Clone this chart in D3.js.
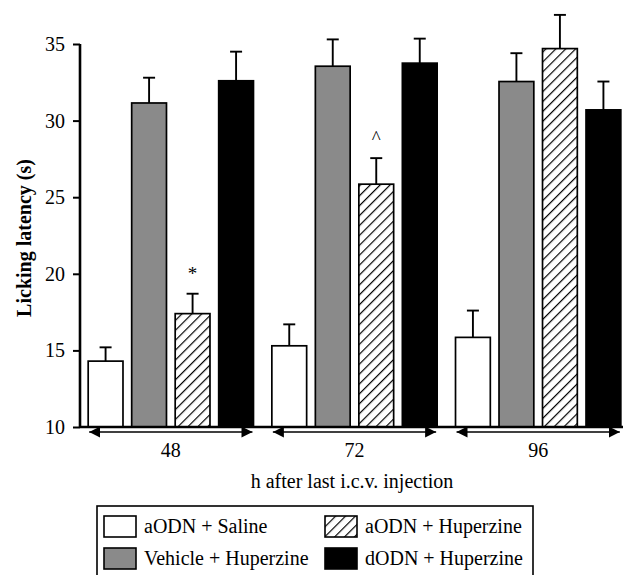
<!DOCTYPE html>
<html>
<head>
<meta charset="utf-8">
<script src="https://cdn.jsdelivr.net/npm/d3@7"></script>
<style>
  body { margin: 0; background: #fff; }
  svg text { font-family: "Liberation Serif", "Times New Roman", serif; fill: #000; }
</style>
</head>
<body>
<script>
// data (means and upper SEM)
var groups = ["48", "72", "96"];
var series = ["aODN + Saline", "Vehicle + Huperzine", "aODN + Huperzine", "dODN + Huperzine"];
var salineMean = [14.3, 15.3, 15.85];
var vehicleMean = [31.15, 33.55, 32.55];
var aodnHupMean = [17.4, 25.85, 34.7];
var dodnHupMean = [32.6, 33.75, 30.7];
var salineErr = [0.9, 1.4, 1.75];
var vehicleErr = [1.65, 1.75, 1.85];
var aodnHupErr = [1.3, 1.7, 2.2];
var dodnHupErr = [1.9, 1.6, 1.85];
var yTicks = [10, 15, 20, 25, 30, 35];
var marks = [{group: "48", series: "aODN + Huperzine", text: "*"},
             {group: "72", series: "aODN + Huperzine", text: "^"}];

var means = [salineMean, vehicleMean, aodnHupMean, dodnHupMean];
var errs = [salineErr, vehicleErr, aodnHupErr, dodnHupErr];

var width = 623, height = 575;

var svg = d3.select("body").append("svg")
    .attr("width", width)
    .attr("height", height);

var defs = svg.append("defs");
var pat = defs.append("pattern")
    .attr("id", "hatch")
    .attr("patternUnits", "userSpaceOnUse")
    .attr("width", 7)
    .attr("height", 7)
    .attr("patternTransform", "rotate(45)");
pat.append("rect").attr("width", 7).attr("height", 7).attr("fill", "#fff");
pat.append("line")
    .attr("x1", 0).attr("y1", 0).attr("x2", 0).attr("y2", 7)
    .attr("stroke", "#000").attr("stroke-width", 2.4);

var fills = ["#fff", "#8a8a8a", "url(#hatch)", "#000"];

var y = d3.scaleLinear().domain([10, 35]).range([427, 44]);
var x0 = d3.scaleBand().domain(groups).range([79, 630]).paddingInner(0.1).paddingOuter(0.05);
var x1 = d3.scaleBand().domain(series).range([0, x0.bandwidth()]).paddingInner(0.2);

var rows = [];
groups.forEach(function(g, gi) {
  series.forEach(function(s, si) {
    rows.push({group: g, series: s, si: si, value: means[si][gi], err: errs[si][gi]});
  });
});

function cx(d) { return x0(d.group) + x1(d.series) + x1.bandwidth() / 2; }

// bars
svg.append("g").selectAll("rect")
  .data(rows)
  .enter().append("rect")
    .attr("x", function(d) { return x0(d.group) + x1(d.series); })
    .attr("y", function(d) { return y(d.value); })
    .attr("width", x1.bandwidth())
    .attr("height", function(d) { return y(10) - y(d.value); })
    .attr("fill", function(d) { return fills[d.si]; })
    .attr("stroke", "#000")
    .attr("stroke-width", 1.7);

// error bars, upward only
var eb = svg.append("g").attr("stroke", "#000").attr("stroke-width", 1.9);
eb.selectAll("line.v")
  .data(rows)
  .enter().append("line")
    .attr("class", "v")
    .attr("x1", cx).attr("x2", cx)
    .attr("y1", function(d) { return y(d.value); })
    .attr("y2", function(d) { return y(d.value + d.err); });
eb.selectAll("line.cap")
  .data(rows)
  .enter().append("line")
    .attr("class", "cap")
    .attr("x1", function(d) { return cx(d) - 6; })
    .attr("x2", function(d) { return cx(d) + 6; })
    .attr("y1", function(d) { return y(d.value + d.err); })
    .attr("y2", function(d) { return y(d.value + d.err); });

// significance marks
svg.selectAll("text.mark")
  .data(marks)
  .enter().append("text")
    .attr("class", "mark")
    .attr("text-anchor", "middle")
    .attr("font-size", 19)
    .attr("x", function(d) { return x0(d.group) + x1(d.series) + x1.bandwidth() / 2; })
    .attr("y", function(d) {
      var si = series.indexOf(d.series), gi = groups.indexOf(d.group);
      return y(means[si][gi] + errs[si][gi]) - 14;
    })
    .text(function(d) { return d.text; });

// y axis
var yAxis = svg.append("g")
    .attr("transform", "translate(80,0)")
    .call(d3.axisLeft(y).tickValues(yTicks).tickSize(7).tickPadding(8));
yAxis.select(".domain").attr("stroke-width", 2.6).attr("d", "M0," + y(35) + "V" + y(10));
yAxis.selectAll(".tick line").attr("stroke-width", 2);
yAxis.selectAll(".tick text")
    .attr("font-family", "Liberation Serif")
    .attr("font-size", 20);

// baseline
svg.append("line")
    .attr("x1", 80).attr("x2", width)
    .attr("y1", y(10)).attr("y2", y(10))
    .attr("stroke", "#000").attr("stroke-width", 2.4);

// double arrows under each group
defs.append("marker")
    .attr("id", "ah")
    .attr("viewBox", "0 0 10 10")
    .attr("refX", 10).attr("refY", 5)
    .attr("markerWidth", 11).attr("markerHeight", 11)
    .attr("markerUnits", "userSpaceOnUse")
    .attr("orient", "auto-start-reverse")
  .append("path")
    .attr("d", "M0,0L10,5L0,10Z")
    .attr("fill", "#000");

var arrowY = y(10) + 5;
svg.append("g").selectAll("line")
  .data(groups)
  .enter().append("line")
    .attr("x1", function(d) { return x0(d) + 1; })
    .attr("x2", function(d) { return x0(d) + x0.bandwidth() - 1; })
    .attr("y1", arrowY).attr("y2", arrowY)
    .attr("stroke", "#000").attr("stroke-width", 1.6)
    .attr("marker-start", "url(#ah)")
    .attr("marker-end", "url(#ah)");

svg.append("g").selectAll("text")
  .data(groups)
  .enter().append("text")
    .attr("x", function(d) { return x0(d) + x0.bandwidth() / 2; })
    .attr("y", 457)
    .attr("text-anchor", "middle")
    .attr("font-size", 20)
    .text(function(d) { return d; });

// axis titles
svg.append("text")
    .attr("x", 352).attr("y", 488)
    .attr("text-anchor", "middle")
    .attr("font-size", 20)
    .text("h after last i.c.v. injection");

svg.append("text")
    .attr("transform", "translate(31,238) rotate(-90)")
    .attr("text-anchor", "middle")
    .attr("font-size", 20)
    .attr("font-weight", "bold")
    .text("Licking latency (s)");

// legend: 2 x 2
var legendOrder = [0, 2, 1, 3];
var legend = svg.append("g");
legend.append("rect")
    .attr("x", 97).attr("y", 506)
    .attr("width", 436).attr("height", 72)
    .attr("fill", "none").attr("stroke", "#000").attr("stroke-width", 1.6);
var li = legend.selectAll("g.item")
  .data(legendOrder)
  .enter().append("g")
    .attr("class", "item")
    .attr("transform", function(d, i) {
      var col = i % 2, row = Math.floor(i / 2);
      return "translate(" + (col ? 325 : 104) + "," + (row ? 548 : 516) + ")";
    });
li.append("rect")
    .attr("width", 32).attr("height", 21)
    .attr("fill", function(d) { return fills[d]; })
    .attr("stroke", "#000").attr("stroke-width", 1.6);
li.append("text")
    .attr("x", 40).attr("y", 17)
    .attr("font-size", 20)
    .text(function(d) { return series[d]; });
</script>
</body>
</html>
